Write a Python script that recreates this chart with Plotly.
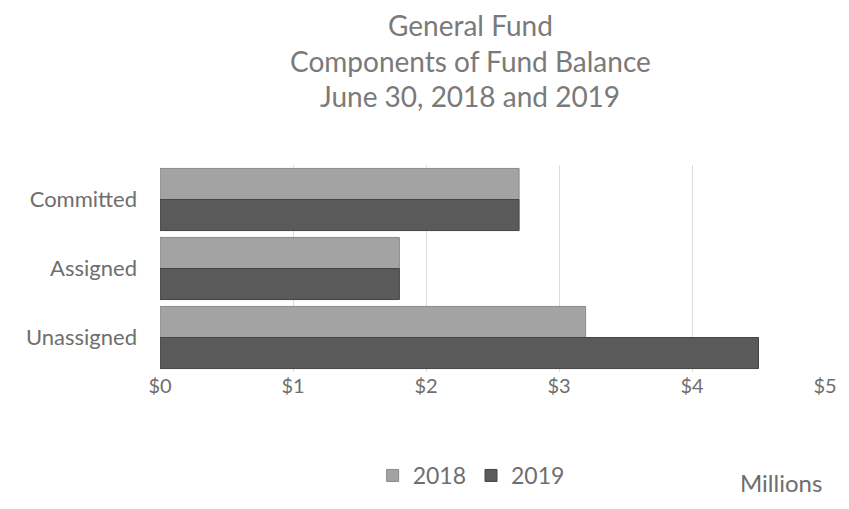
import plotly.graph_objects as go

categories = ["Committed", "Assigned", "Unassigned"]
values_2018 = [2.7, 1.8, 3.2]
values_2019 = [2.7, 1.8, 4.5]
tick_values = [0, 1, 2, 3, 4, 5]
tick_labels = ["$0", "$1", "$2", "$3", "$4", "$5"]
title_lines = ["General Fund", "Components of Fund Balance", "June 30, 2018 and 2019"]

font_family = "Lato, Open Sans, sans-serif"
text_color = "#6e6e6e"

W, H = 849, 509
ML, MR, MT, MB = 160, 20, 165, 130
plot_h = H - MT - MB
plot_w = W - ML - MR


def py(px_y):
    return (H - MB - px_y) / plot_h


def px(px_x):
    return (px_x - ML) / plot_w


fig = go.Figure()
fig.add_trace(go.Bar(
    y=categories, x=values_2018, name="2018", orientation="h",
    marker=dict(color="#a3a3a3", line=dict(color="#8a8a8a", width=1)),
))
fig.add_trace(go.Bar(
    y=categories, x=values_2019, name="2019", orientation="h",
    marker=dict(color="#5a5a5a", line=dict(color="#444444", width=1)),
))

annotations = []
for line, yc in zip(title_lines, [20, 57, 94]):
    annotations.append(dict(text=line, xref="paper", yref="paper", x=px(472), y=py(yc),
                            xanchor="center", yanchor="middle", showarrow=False,
                            font=dict(size=28, color="#7a7a7a", family=font_family)))
annotations.append(dict(text="Millions", xref="paper", yref="paper", x=px(828), y=py(493),
                        xanchor="right", yanchor="middle", showarrow=False,
                        font=dict(size=24, color=text_color, family=font_family)))

fig.update_layout(
    width=W, height=H,
    paper_bgcolor="white", plot_bgcolor="white",
    font=dict(family=font_family, color=text_color, size=20),
    margin=dict(l=ML, r=MR, t=MT, b=MB),
    barmode="group", bargap=0.1, bargroupgap=0.0,
    legend=dict(orientation="h", x=px(473), xanchor="center", y=py(486), yanchor="middle",
                font=dict(size=23, color=text_color), traceorder="normal",
                itemwidth=30),
    xaxis=dict(range=[0, 5], tickvals=tick_values, ticktext=tick_labels,
               showgrid=True, gridcolor="#dcdcdc", gridwidth=1, zeroline=False,
               showline=False, ticks="", tickfont=dict(size=20, color=text_color)),
    yaxis=dict(autorange="reversed", showgrid=False, showline=False, ticks="",
               ticklabelstandoff=22, tickfont=dict(size=22, color=text_color)),
    annotations=annotations,
)

fig.write_html("out.html")
